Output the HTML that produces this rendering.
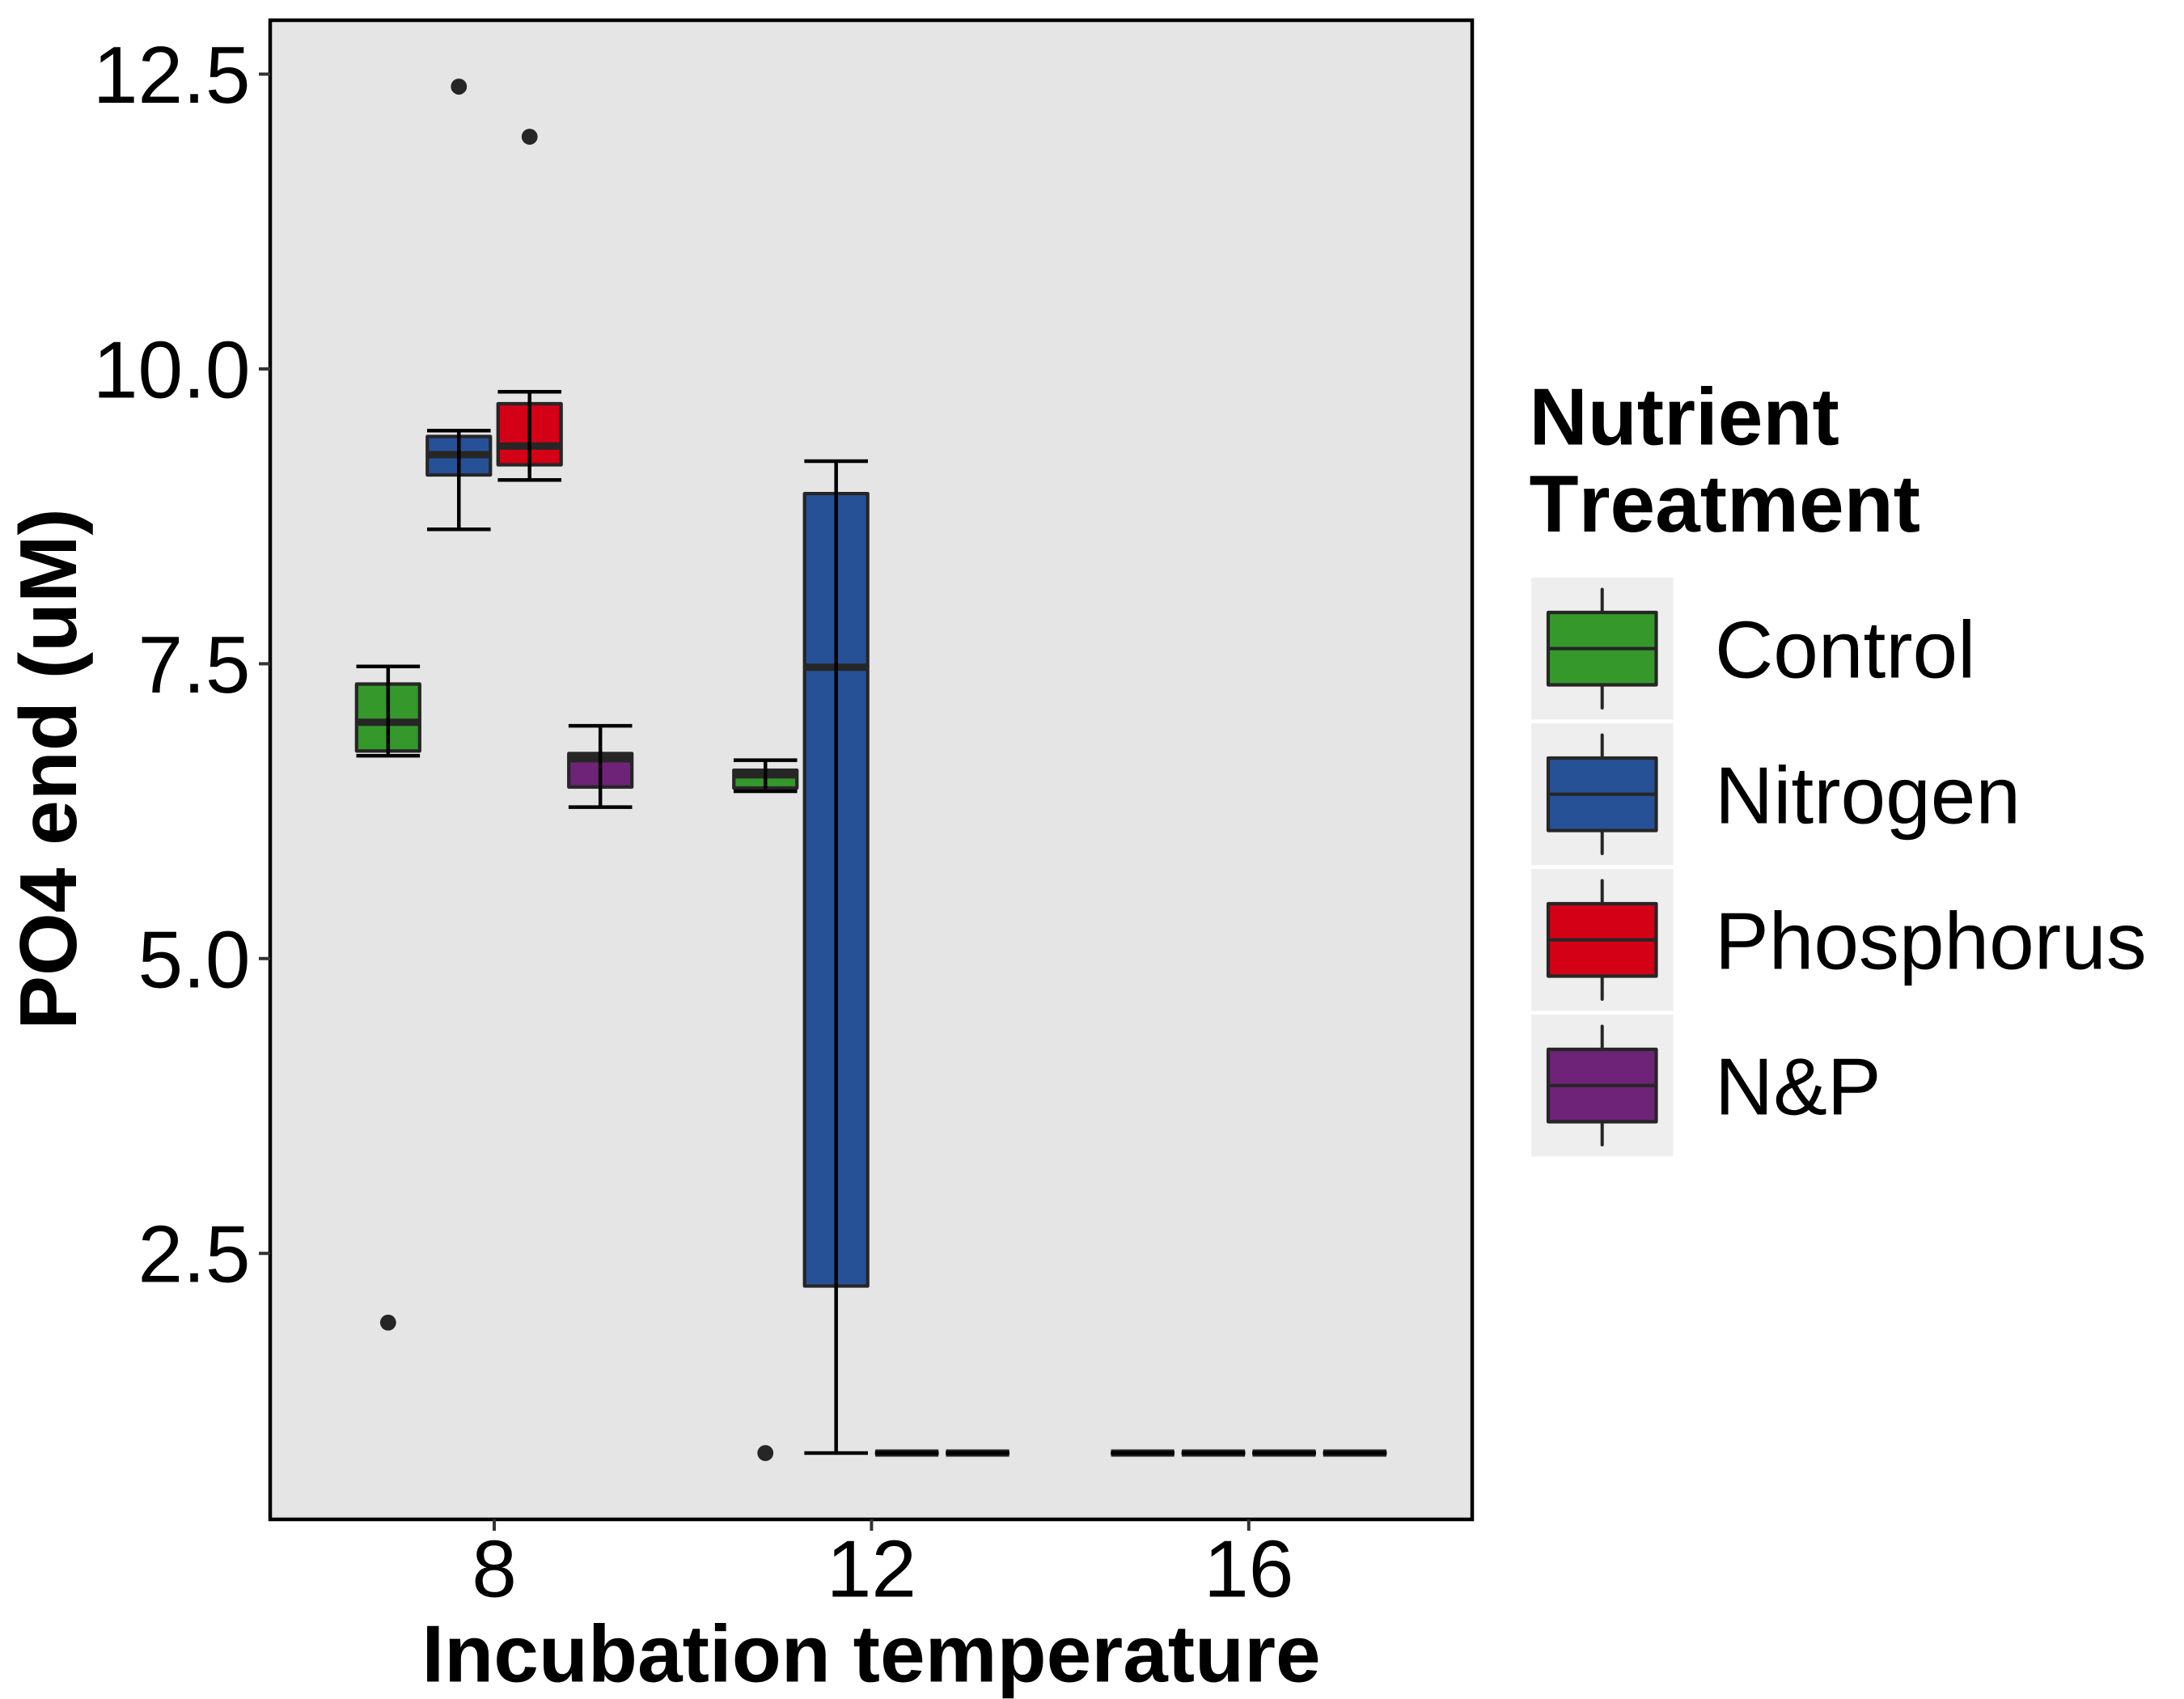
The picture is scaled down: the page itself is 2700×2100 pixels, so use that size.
<!DOCTYPE html>
<html lang="en">
<head>
<meta charset="utf-8">
<title>PO4 end by incubation temperature</title>
<style>
html,body{margin:0;padding:0;background:#fff;}
svg{display:block;font-family:"Liberation Sans",Arial,sans-serif;text-rendering:geometricPrecision;font-kerning:none;}
</style>
</head>
<body>
<svg id="chart" xmlns="http://www.w3.org/2000/svg" width="2700" height="2100" viewBox="0 0 2700 2100">
  <rect x="0" y="0" width="2700" height="2100" fill="#ffffff"/>
  <rect x="334" y="25" width="1486" height="1853" fill="#e5e5e5"/>
  <g id="marks"></g>
  <rect x="334" y="25" width="1486" height="1853" fill="none" stroke="#000000" stroke-width="4.5"/>
  <g id="axes"></g>
  <text x="1077" y="2078.5" font-size="100" font-weight="700" text-anchor="middle" fill="#000">Incubation temperature</text>
  <text transform="translate(94 950.5) rotate(-90)" font-size="100" font-weight="700" text-anchor="middle" fill="#000">PO4 end (uM)</text>
  <g id="legend">
    <text x="1890.5" y="549.5" font-size="100" font-weight="700" fill="#000">Nutrient</text>
    <text x="1890.5" y="657" font-size="100" font-weight="700" fill="#000">Treatment</text>
  </g>
</svg>
<script>
// Categories
const temperatures = [8, 12, 16];
const treatments = ["Control", "Nitrogen", "Phosphorus", "N&P"];
const treatmentColors = ["#35982b", "#265197", "#d30016", "#6e2378"];

// Series values: order is Control, Nitrogen, Phosphorus, N&P at 8, then at 12, then at 16
const whiskerHigh = [7.477, 9.477, 9.806, 6.974, 6.682, 9.218, 0.807, 0.807, 0.807, 0.807, 0.807, 0.807];
const quartile3   = [7.328, 9.427, 9.705, 6.739, 6.597, 8.943, 0.807, 0.807, 0.807, 0.807, 0.807, 0.807];
const medians     = [7.004, 9.273, 9.346, 6.694, 6.558, 7.470, 0.807, 0.807, 0.807, 0.807, 0.807, 0.807];
const quartile1   = [6.760, 9.101, 9.187, 6.455, 6.446, 2.223, 0.807, 0.807, 0.807, 0.807, 0.807, 0.807];
const whiskerLow  = [6.720, 8.640, 9.058, 6.284, 6.419, 0.807, 0.807, 0.807, 0.807, 0.807, 0.807, 0.807];

// Outliers
const outlierTemperatures = [8, 8, 8, 12];
const outlierTreatments = [0, 1, 2, 0];
const outlierValues = [1.913, 12.394, 11.969, 0.807];

// Tick labels
const yTickValues = [2.5, 5, 7.5, 10, 12.5];
const yTickLabels = ["2.5", "5.0", "7.5", "10.0", "12.5"];
const xTickValues = [8, 12, 16];
const xTickLabels = ["8", "12", "16"];

const SVG_NS = "http://www.w3.org/2000/svg";
const xScale = function (t) { return 611 + (t - 8) * 116.6; };
const yScale = function (v) { return 456 + (10 - v) * 145.76; };
const dodgeStep = 0.75;
const boxHalfWidth = 39;
const capHalfWidth = 39.3;

function mk(tag, attrs, parent) {
  const node = document.createElementNS(SVG_NS, tag);
  for (const key in attrs) { node.setAttribute(key, attrs[key]); }
  parent.appendChild(node);
  return node;
}

const marks = document.getElementById("marks");
const axes = document.getElementById("axes");
const legend = document.getElementById("legend");

function dodgedX(temperature, treatmentIndex) {
  return xScale(temperature + (treatmentIndex - 1.5) * dodgeStep);
}

temperatures.forEach(function (temperature, ti) {
  treatments.forEach(function (treatment, si) {
    const idx = ti * treatments.length + si;
    const cx = dodgedX(temperature, si);
    const slug = treatment.toLowerCase().replace("&", "-and-") + "-" + temperature;

    const top = yScale(quartile3[idx]);
    const bottom = yScale(quartile1[idx]);
    const box = mk("rect", { x: cx - boxHalfWidth, y: top, width: boxHalfWidth * 2, height: bottom - top, fill: treatmentColors[si], stroke: "#262626", "stroke-width": 4.2, "stroke-linejoin": "round" }, marks);
    
    

    const med = mk("line", { x1: cx - boxHalfWidth, x2: cx + boxHalfWidth, y1: yScale(medians[idx]), y2: yScale(medians[idx]), stroke: "#262626", "stroke-width": 9 }, marks);
    
    

    const stem = mk("line", { x1: cx, x2: cx, y1: yScale(whiskerHigh[idx]), y2: yScale(whiskerLow[idx]), stroke: "#000000", "stroke-width": 4.5 }, marks);
    
    

    const capTop = mk("line", { x1: cx - capHalfWidth, x2: cx + capHalfWidth, y1: yScale(whiskerHigh[idx]), y2: yScale(whiskerHigh[idx]), stroke: "#000000", "stroke-width": 4.5 }, marks);
    
    

    const capBottom = mk("line", { x1: cx - capHalfWidth, x2: cx + capHalfWidth, y1: yScale(whiskerLow[idx]), y2: yScale(whiskerLow[idx]), stroke: "#000000", "stroke-width": 4.5 }, marks);
    
    
  });
});

outlierValues.forEach(function (value, i) {
  const dot = mk("circle", { cx: dodgedX(outlierTemperatures[i], outlierTreatments[i]), cy: yScale(value), r: 9.9, fill: "#262626" }, marks);
  
  
});

yTickValues.forEach(function (value, i) {
  const y = yScale(value);
  const tick = mk("line", { x1: 320, x2: 334, y1: y, y2: y, stroke: "#333333", "stroke-width": 4 }, axes);
  
  
  const label = mk("text", { x: 309.5, y: y + 35.5, "font-size": 100, "text-anchor": "end", fill: "#000" }, axes);
  label.textContent = yTickLabels[i];
  
  
});

xTickValues.forEach(function (value, i) {
  const x = xScale(value);
  const tick = mk("line", { x1: x, x2: x, y1: 1878, y2: 1892, stroke: "#333333", "stroke-width": 4 }, axes);
  
  
  const label = mk("text", { x: x, y: 1973.5, "font-size": 100, "text-anchor": "middle", fill: "#000" }, axes);
  label.textContent = xTickLabels[i];
  
  
});

treatments.forEach(function (treatment, i) {
  const keyTop = 714 + i * 180;
  const slug = treatment.toLowerCase().replace("&", "-and-");

  const keyBg = mk("rect", { x: 1893, y: keyTop, width: 175.5, height: 175.5, fill: "#eeeeee" }, legend);
  
  

  const whisker = mk("line", { x1: 1980.7, x2: 1980.7, y1: keyTop + 14.5, y2: keyTop + 161, stroke: "#262626", "stroke-width": 4, "stroke-linecap": "round" }, legend);
  
  

  const keyBox = mk("rect", { x: 1914, y: keyTop + 43, width: 133.5, height: 89.5, fill: treatmentColors[i], stroke: "#262626", "stroke-width": 4.2, "stroke-linejoin": "round" }, legend);
  
  

  const keyMedian = mk("line", { x1: 1914, x2: 2047.5, y1: keyTop + 87.7, y2: keyTop + 87.7, stroke: "#262626", "stroke-width": 4.2 }, legend);
  
  

  const keyLabel = mk("text", { x: 2120, y: keyTop + 123.5, "font-size": 100, fill: "#000" }, legend);
  keyLabel.textContent = treatment;
  
  
});
</script>
</body>
</html>
